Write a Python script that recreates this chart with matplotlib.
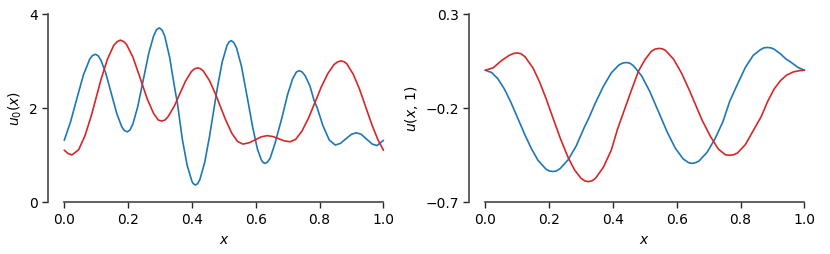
# Initial condition u0(x) and solution u(x, 1), two samples each
import matplotlib.pyplot as plt

# Left panel: u0(x)
x_u0_blue = [0.0, 0.02, 0.04, 0.06, 0.08, 0.088, 0.097, 0.106, 0.115, 0.13, 0.147, 0.165,
             0.18, 0.188, 0.197, 0.206, 0.215, 0.23, 0.2475, 0.265, 0.28, 0.289, 0.298,
             0.307, 0.315, 0.33, 0.345, 0.3545, 0.37, 0.385, 0.40, 0.404, 0.411, 0.418,
             0.425, 0.44, 0.455, 0.467, 0.48, 0.495, 0.51, 0.516, 0.523, 0.531,
             0.54, 0.555, 0.576, 0.59, 0.605, 0.617, 0.623, 0.629, 0.637, 0.645, 0.66,
             0.6825, 0.70, 0.715, 0.727, 0.736, 0.745, 0.755, 0.77, 0.783, 0.7925, 0.81,
             0.83, 0.849, 0.865, 0.882, 0.90, 0.915, 0.93, 0.9475, 0.965, 0.98, 1.0]
u0_blue = [1.31, 1.71, 2.21, 2.70, 3.04, 3.11, 3.14, 3.11, 3.01, 2.74, 2.315, 1.87,
           1.60, 1.52, 1.49, 1.53, 1.66, 2.02, 2.595, 3.17, 3.53, 3.66, 3.70,
           3.65, 3.52, 3.08, 2.46, 2.10, 1.33, 0.78, 0.44, 0.39, 0.36, 0.39,
           0.48, 0.84, 1.39, 1.895, 2.44, 2.98, 3.33, 3.40, 3.43, 3.39,
           3.27, 2.89, 2.125, 1.60, 1.13, 0.90, 0.84, 0.82, 0.85, 0.93, 1.24,
           1.805, 2.29, 2.61, 2.76, 2.79, 2.765, 2.68, 2.46, 2.15, 2.00, 1.63,
           1.32, 1.21, 1.245, 1.34, 1.44, 1.47, 1.44, 1.335, 1.23, 1.20, 1.31]

x_u0_red = [0.0, 0.012, 0.024, 0.045, 0.065, 0.085, 0.10, 0.115, 0.135, 0.155, 0.166,
            0.176, 0.186, 0.195, 0.215, 0.2405, 0.26, 0.28, 0.295, 0.305, 0.315, 0.325,
            0.345, 0.361, 0.38, 0.398, 0.408, 0.417, 0.426, 0.435, 0.455, 0.475, 0.4885,
            0.505, 0.525, 0.543, 0.56, 0.58, 0.598, 0.617, 0.636, 0.654, 0.6715, 0.689,
            0.707, 0.725, 0.745, 0.765, 0.787, 0.805, 0.825, 0.845, 0.857, 0.867, 0.877,
            0.885, 0.905, 0.925, 0.9455, 0.965, 0.983, 1.0]
u0_red = [1.10, 1.03, 1.00, 1.11, 1.41, 1.84, 2.22, 2.60, 3.03, 3.33, 3.41,
          3.44, 3.41, 3.35, 3.08, 2.58, 2.19, 1.88, 1.74, 1.72, 1.74, 1.81,
          2.04, 2.285, 2.57, 2.77, 2.83, 2.85, 2.835, 2.79, 2.58, 2.275, 2.04,
          1.755, 1.46, 1.285, 1.23, 1.26, 1.32, 1.385, 1.41, 1.39, 1.345, 1.30,
          1.28, 1.33, 1.51, 1.78, 2.14, 2.44, 2.72, 2.92, 2.98, 3.00, 2.98,
          2.94, 2.72, 2.40, 2.00, 1.62, 1.32, 1.10]

# Right panel: u(x, 1)
x_u1_blue = [0.0, 0.02, 0.04, 0.06, 0.08, 0.1055, 0.125, 0.145, 0.165, 0.19, 0.20, 0.211,
             0.222, 0.235, 0.26, 0.285, 0.31, 0.326, 0.345, 0.37, 0.395, 0.418, 0.43, 0.441,
             0.453, 0.465, 0.49, 0.515, 0.5445, 0.57, 0.595, 0.62, 0.637, 0.648, 0.659,
             0.67, 0.695, 0.72, 0.745, 0.766, 0.79, 0.815, 0.84, 0.862, 0.873, 0.884,
             0.895, 0.905, 0.925, 0.942, 0.96, 0.98, 1.0]
u1_blue = [0.0, -0.012, -0.046, -0.10, -0.169, -0.269, -0.346, -0.418, -0.478, -0.525, -0.535, -0.538,
           -0.536, -0.522, -0.475, -0.402, -0.305, -0.2485, -0.174, -0.086, -0.014, 0.027, 0.038, 0.041,
           0.038, 0.023, -0.030, -0.111, -0.227, -0.328, -0.413, -0.471, -0.491, -0.495, -0.491,
           -0.482, -0.436, -0.364, -0.272, -0.165, -0.075, 0.015, 0.08, 0.109, 0.119, 0.121,
           0.119, 0.112, 0.087, 0.06, 0.04, 0.015, 0.0]

x_u1_red = [0.0, 0.025, 0.05, 0.075, 0.088, 0.10, 0.112, 0.125, 0.15, 0.17, 0.19, 0.2115, 0.235,
            0.26, 0.28, 0.30, 0.312, 0.323, 0.334, 0.345, 0.37, 0.395, 0.415, 0.434, 0.455, 0.48,
            0.50, 0.52, 0.533, 0.545, 0.555, 0.565, 0.59, 0.615, 0.64, 0.655, 0.68, 0.705, 0.73,
            0.752, 0.765, 0.778, 0.79, 0.815, 0.84, 0.865, 0.885, 0.905, 0.925, 0.945, 0.965,
            0.985, 1.0]
u1_red = [0.0, 0.013, 0.05, 0.079, 0.089, 0.092, 0.088, 0.071, 0.011, -0.061, -0.148, -0.25, -0.361,
          -0.465, -0.53, -0.574, -0.588, -0.592, -0.588, -0.575, -0.516, -0.424, -0.31, -0.22, -0.12, -0.005,
          0.055, 0.10, 0.113, 0.116, 0.114, 0.105, 0.059, -0.015, -0.108, -0.168, -0.267, -0.35, -0.418,
          -0.449, -0.452, -0.449, -0.44, -0.395, -0.32, -0.245, -0.165, -0.10, -0.055, -0.025, -0.009,
          -0.002, 0.0]

x_ticks = [0.0, 0.2, 0.4, 0.6, 0.8, 1.0]
u0_ticks = [0, 2, 4]
u1_ticks = [-0.7, -0.2, 0.3]

fig = plt.figure(figsize=(8.3, 2.55), dpi=100)
ax1 = fig.add_axes([0.0582, 0.204, 0.423, 0.738])
ax2 = fig.add_axes([0.5654, 0.204, 0.423, 0.738])

blue = '#1f77b4'
red = '#d62728'

line_kw = dict(lw=1.2, solid_joinstyle='round', solid_capstyle='round')
ax1.plot(x_u0_blue, u0_blue, color=blue, **line_kw)
ax1.plot(x_u0_red, u0_red, color=red, **line_kw)
ax2.plot(x_u1_blue, u1_blue, color=blue, **line_kw)
ax2.plot(x_u1_red, u1_red, color=red, **line_kw)

for ax, yt in [(ax1, u0_ticks), (ax2, u1_ticks)]:
    ax.set_xlim(-0.05, 1.05)
    ax.set_ylim(yt[0], yt[-1])
    ax.set_xticks(x_ticks)
    ax.set_yticks(yt)
    ax.set_xlabel('$x$', fontsize=10)
    # despine with trimmed spines
    ax.spines['top'].set_visible(False)
    ax.spines['right'].set_visible(False)
    ax.spines['bottom'].set_bounds(0, 1)
    ax.spines['left'].set_bounds(yt[0], yt[-1])
    for s in ['left', 'bottom']:
        ax.spines[s].set_color('0.3')
        ax.spines[s].set_linewidth(1.25)
    ax.tick_params(labelsize=10, color='0.15', width=1.0, length=4)

ax1.set_yticklabels(['0', '2', '4'])
ax1.set_ylabel('$u_0(x)$', fontsize=10)
ax2.set_ylabel('$u(x,\\,1)$', fontsize=10)

fig.savefig('out.png', dpi=100)
